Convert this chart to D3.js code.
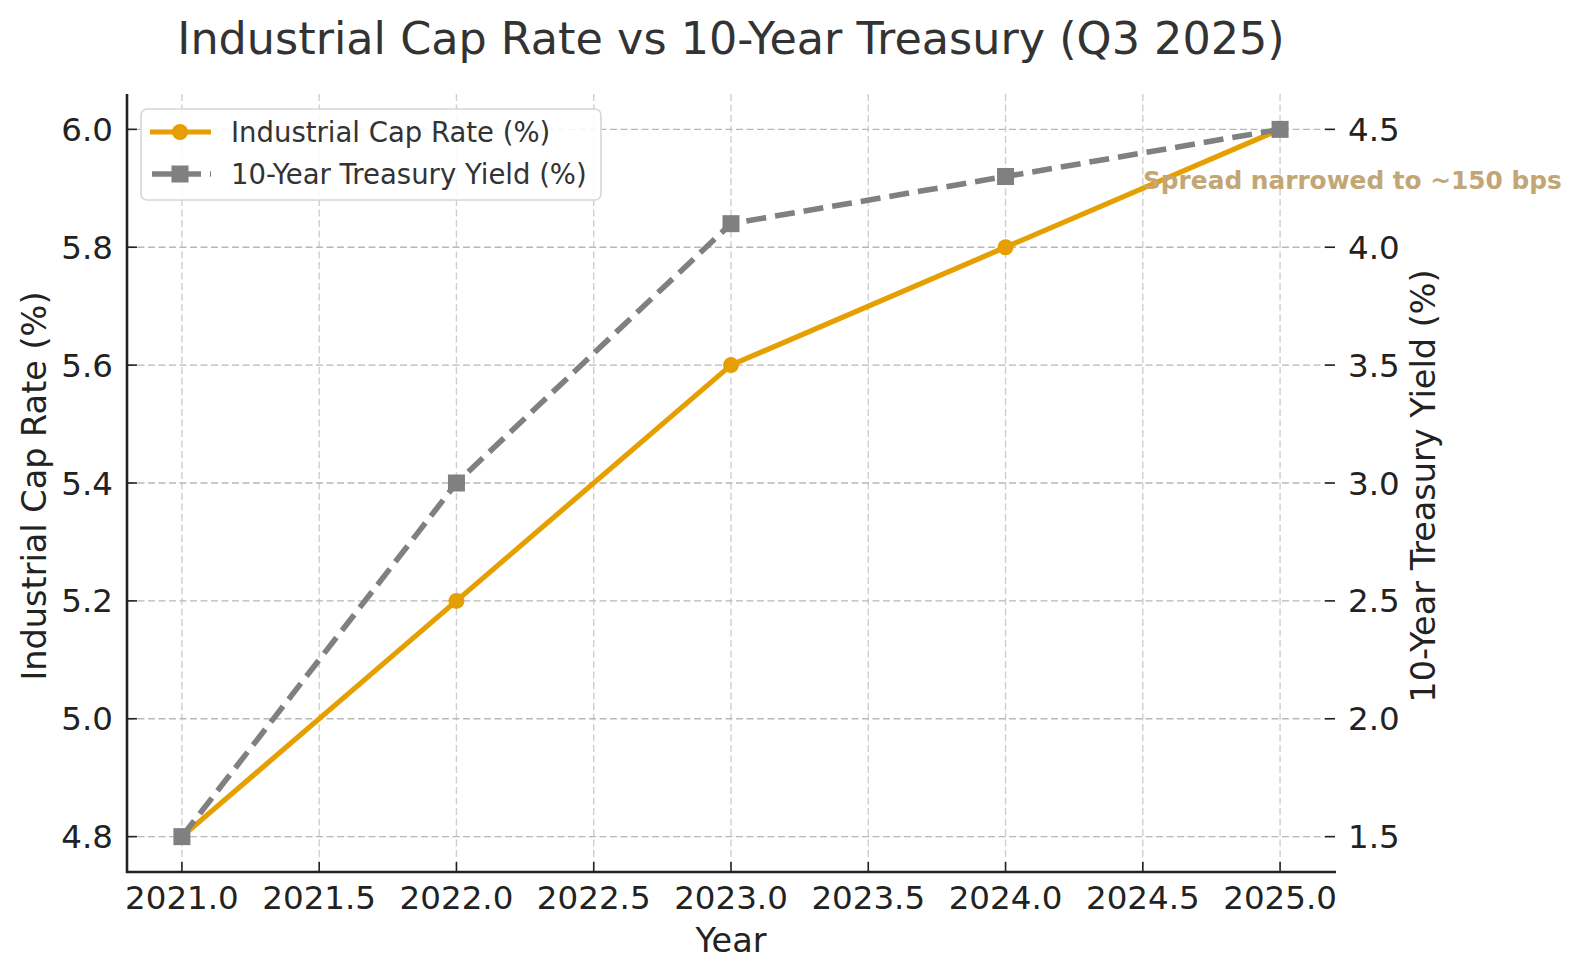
<!DOCTYPE html>
<html>
<head>
<meta charset="utf-8">
<script src="https://cdn.jsdelivr.net/npm/d3@7/dist/d3.min.js"></script>
<style>
  body { margin: 0; background: #fff; }
  svg { display: block; font-family: "DejaVu Sans", sans-serif; }
</style>
</head>
<body>
<svg id="chart" width="1585" height="979"></svg>
<script>
// Data
const years = [2021, 2022, 2023, 2024, 2025];
const capRate = [4.8, 5.2, 5.6, 5.8, 6.0];
const treasury = [1.5, 3.0, 4.1, 4.3, 4.5];
const xTicks = [2021.0, 2021.5, 2022.0, 2022.5, 2023.0, 2023.5, 2024.0, 2024.5, 2025.0];
const leftTicks = [4.8, 5.0, 5.2, 5.4, 5.6, 5.8, 6.0];
const rightTicks = [1.5, 2.0, 2.5, 3.0, 3.5, 4.0, 4.5];
const seriesNames = ['Industrial Cap Rate (%)', '10-Year Treasury Yield (%)'];

const orange = '#e69f00';
const gray = '#808080';
const ink = '#222';

const svg = d3.select('#chart');

// Plot area
const L = 127, R = 1335, T = 94, B = 872;

const x = d3.scaleLinear().domain([2020.8, 2025.2]).range([L, R]);
const yL = d3.scaleLinear().domain([4.74, 6.06]).range([B, T]);
const yR = d3.scaleLinear().domain([1.35, 4.65]).range([B, T]);

// Grid
const grid = svg.append('g');
grid.selectAll('line.vx').data(xTicks).enter().append('line')
    .attr('x1', d => x(d)).attr('x2', d => x(d))
    .attr('y1', T).attr('y2', B)
    .attr('stroke', '#cfcfcf').attr('stroke-width', 1.4)
    .attr('stroke-dasharray', '7,3.5');
grid.selectAll('line.hy').data(leftTicks).enter().append('line')
    .attr('x1', L).attr('x2', R)
    .attr('y1', d => yL(d)).attr('y2', d => yL(d))
    .attr('stroke', '#b8b8b8').attr('stroke-width', 1.4)
    .attr('stroke-dasharray', '7,3.5');

// Spines (left and bottom only)
svg.append('line').attr('x1', L).attr('x2', L).attr('y1', T).attr('y2', B + 1)
    .attr('stroke', ink).attr('stroke-width', 2.6);
svg.append('line').attr('x1', L - 1).attr('x2', R + 1).attr('y1', B).attr('y2', B)
    .attr('stroke', ink).attr('stroke-width', 2.6);

// Bottom axis, inward ticks
const xAxis = svg.append('g');
xAxis.selectAll('line').data(xTicks).enter().append('line')
    .attr('x1', d => x(d)).attr('x2', d => x(d))
    .attr('y1', B).attr('y2', B - 10)
    .attr('stroke', ink).attr('stroke-width', 1.6);
xAxis.selectAll('text').data(xTicks).enter().append('text')
    .attr('x', d => x(d)).attr('y', 909)
    .attr('text-anchor', 'middle')
    .attr('font-size', 32.5).attr('fill', ink)
    .text(d => d.toFixed(1));

// Left axis
const leftAxis = svg.append('g');
leftAxis.selectAll('line').data(leftTicks).enter().append('line')
    .attr('x1', L).attr('x2', L + 10)
    .attr('y1', d => yL(d)).attr('y2', d => yL(d))
    .attr('stroke', ink).attr('stroke-width', 1.6);
leftAxis.selectAll('text').data(leftTicks).enter().append('text')
    .attr('x', L - 14).attr('y', d => yL(d) + 11.5)
    .attr('text-anchor', 'end')
    .attr('font-size', 32.5).attr('fill', ink)
    .text(d => d.toFixed(1));

// Right axis
const rightAxis = svg.append('g');
rightAxis.selectAll('line').data(rightTicks).enter().append('line')
    .attr('x1', R - 10).attr('x2', R)
    .attr('y1', d => yR(d)).attr('y2', d => yR(d))
    .attr('stroke', ink).attr('stroke-width', 1.6);
rightAxis.selectAll('text').data(rightTicks).enter().append('text')
    .attr('x', R + 13).attr('y', d => yR(d) + 11.5)
    .attr('text-anchor', 'start')
    .attr('font-size', 32.5).attr('fill', ink)
    .text(d => d.toFixed(1));

// Axis labels
svg.append('text')
    .attr('x', (L + R) / 2).attr('y', 952)
    .attr('text-anchor', 'middle')
    .attr('font-size', 33.5).attr('fill', ink)
    .text('Year');
svg.append('text')
    .attr('transform', `translate(46, ${(T + B) / 2 + 3}) rotate(-90)`)
    .attr('text-anchor', 'middle')
    .attr('font-size', 33.5).attr('fill', ink)
    .text('Industrial Cap Rate (%)');
svg.append('text')
    .attr('transform', `translate(1435, ${(T + B) / 2 + 3}) rotate(-90)`)
    .attr('text-anchor', 'middle')
    .attr('font-size', 33.5).attr('fill', ink)
    .text('10-Year Treasury Yield (%)');

// Title
svg.append('text')
    .attr('x', (L + R) / 2).attr('y', 54)
    .attr('text-anchor', 'middle')
    .attr('font-size', 44.5).attr('fill', '#333')
    .text('Industrial Cap Rate vs 10-Year Treasury (Q3 2025)');

// Cap rate line (left axis)
const capPts = years.map((d, i) => [x(d), yL(capRate[i])]);
svg.append('path')
    .attr('d', d3.line()(capPts))
    .attr('fill', 'none').attr('stroke', orange)
    .attr('stroke-width', 5.2).attr('stroke-linejoin', 'round');
svg.selectAll('circle.cap').data(capPts).enter().append('circle')
    .attr('cx', d => d[0]).attr('cy', d => d[1]).attr('r', 8)
    .attr('fill', orange);

// Treasury line (right axis)
const trPts = years.map((d, i) => [x(d), yR(treasury[i])]);
svg.append('path')
    .attr('d', d3.line()(trPts))
    .attr('fill', 'none').attr('stroke', gray)
    .attr('stroke-width', 5.6).attr('stroke-dasharray', '20,9');
svg.selectAll('rect.tr').data(trPts).enter().append('rect')
    .attr('x', d => d[0] - 8.5).attr('y', d => d[1] - 8.5)
    .attr('width', 17).attr('height', 17)
    .attr('fill', gray);

// Annotation
svg.append('text')
    .attr('x', 1143).attr('y', 189)
    .attr('font-size', 24.8).attr('font-weight', 'bold')
    .attr('fill', '#c2a676')
    .text('Spread narrowed to ~150 bps');

// Legend
const legend = svg.append('g');
legend.append('rect')
    .attr('x', 141).attr('y', 109).attr('width', 460).attr('height', 91)
    .attr('rx', 6).attr('fill', 'rgba(255,255,255,0.85)')
    .attr('stroke', '#d6d6d6').attr('stroke-width', 1.6);
const rows = legend.selectAll('g').data(seriesNames).enter().append('g')
    .attr('transform', (d, i) => `translate(0, ${132 + i * 42})`);
rows.append('line')
    .attr('x1', 150).attr('x2', 211).attr('y1', 0).attr('y2', 0)
    .attr('stroke', (d, i) => i === 0 ? orange : gray)
    .attr('stroke-width', (d, i) => i === 0 ? 5.2 : 5.6)
    .attr('stroke-dasharray', (d, i) => i === 0 ? null : '20,9')
    .attr('stroke-dashoffset', (d, i) => i === 0 ? 0 : -2);
rows.filter((d, i) => i === 0).append('circle')
    .attr('cx', 180).attr('cy', 0).attr('r', 8).attr('fill', orange);
rows.filter((d, i) => i === 1).append('rect')
    .attr('x', 171.5).attr('y', -8.5).attr('width', 17).attr('height', 17).attr('fill', gray);
rows.append('text')
    .attr('x', 231).attr('y', 10)
    .attr('font-size', 27.5).attr('fill', '#333')
    .text(d => d);
</script>
</body>
</html>
